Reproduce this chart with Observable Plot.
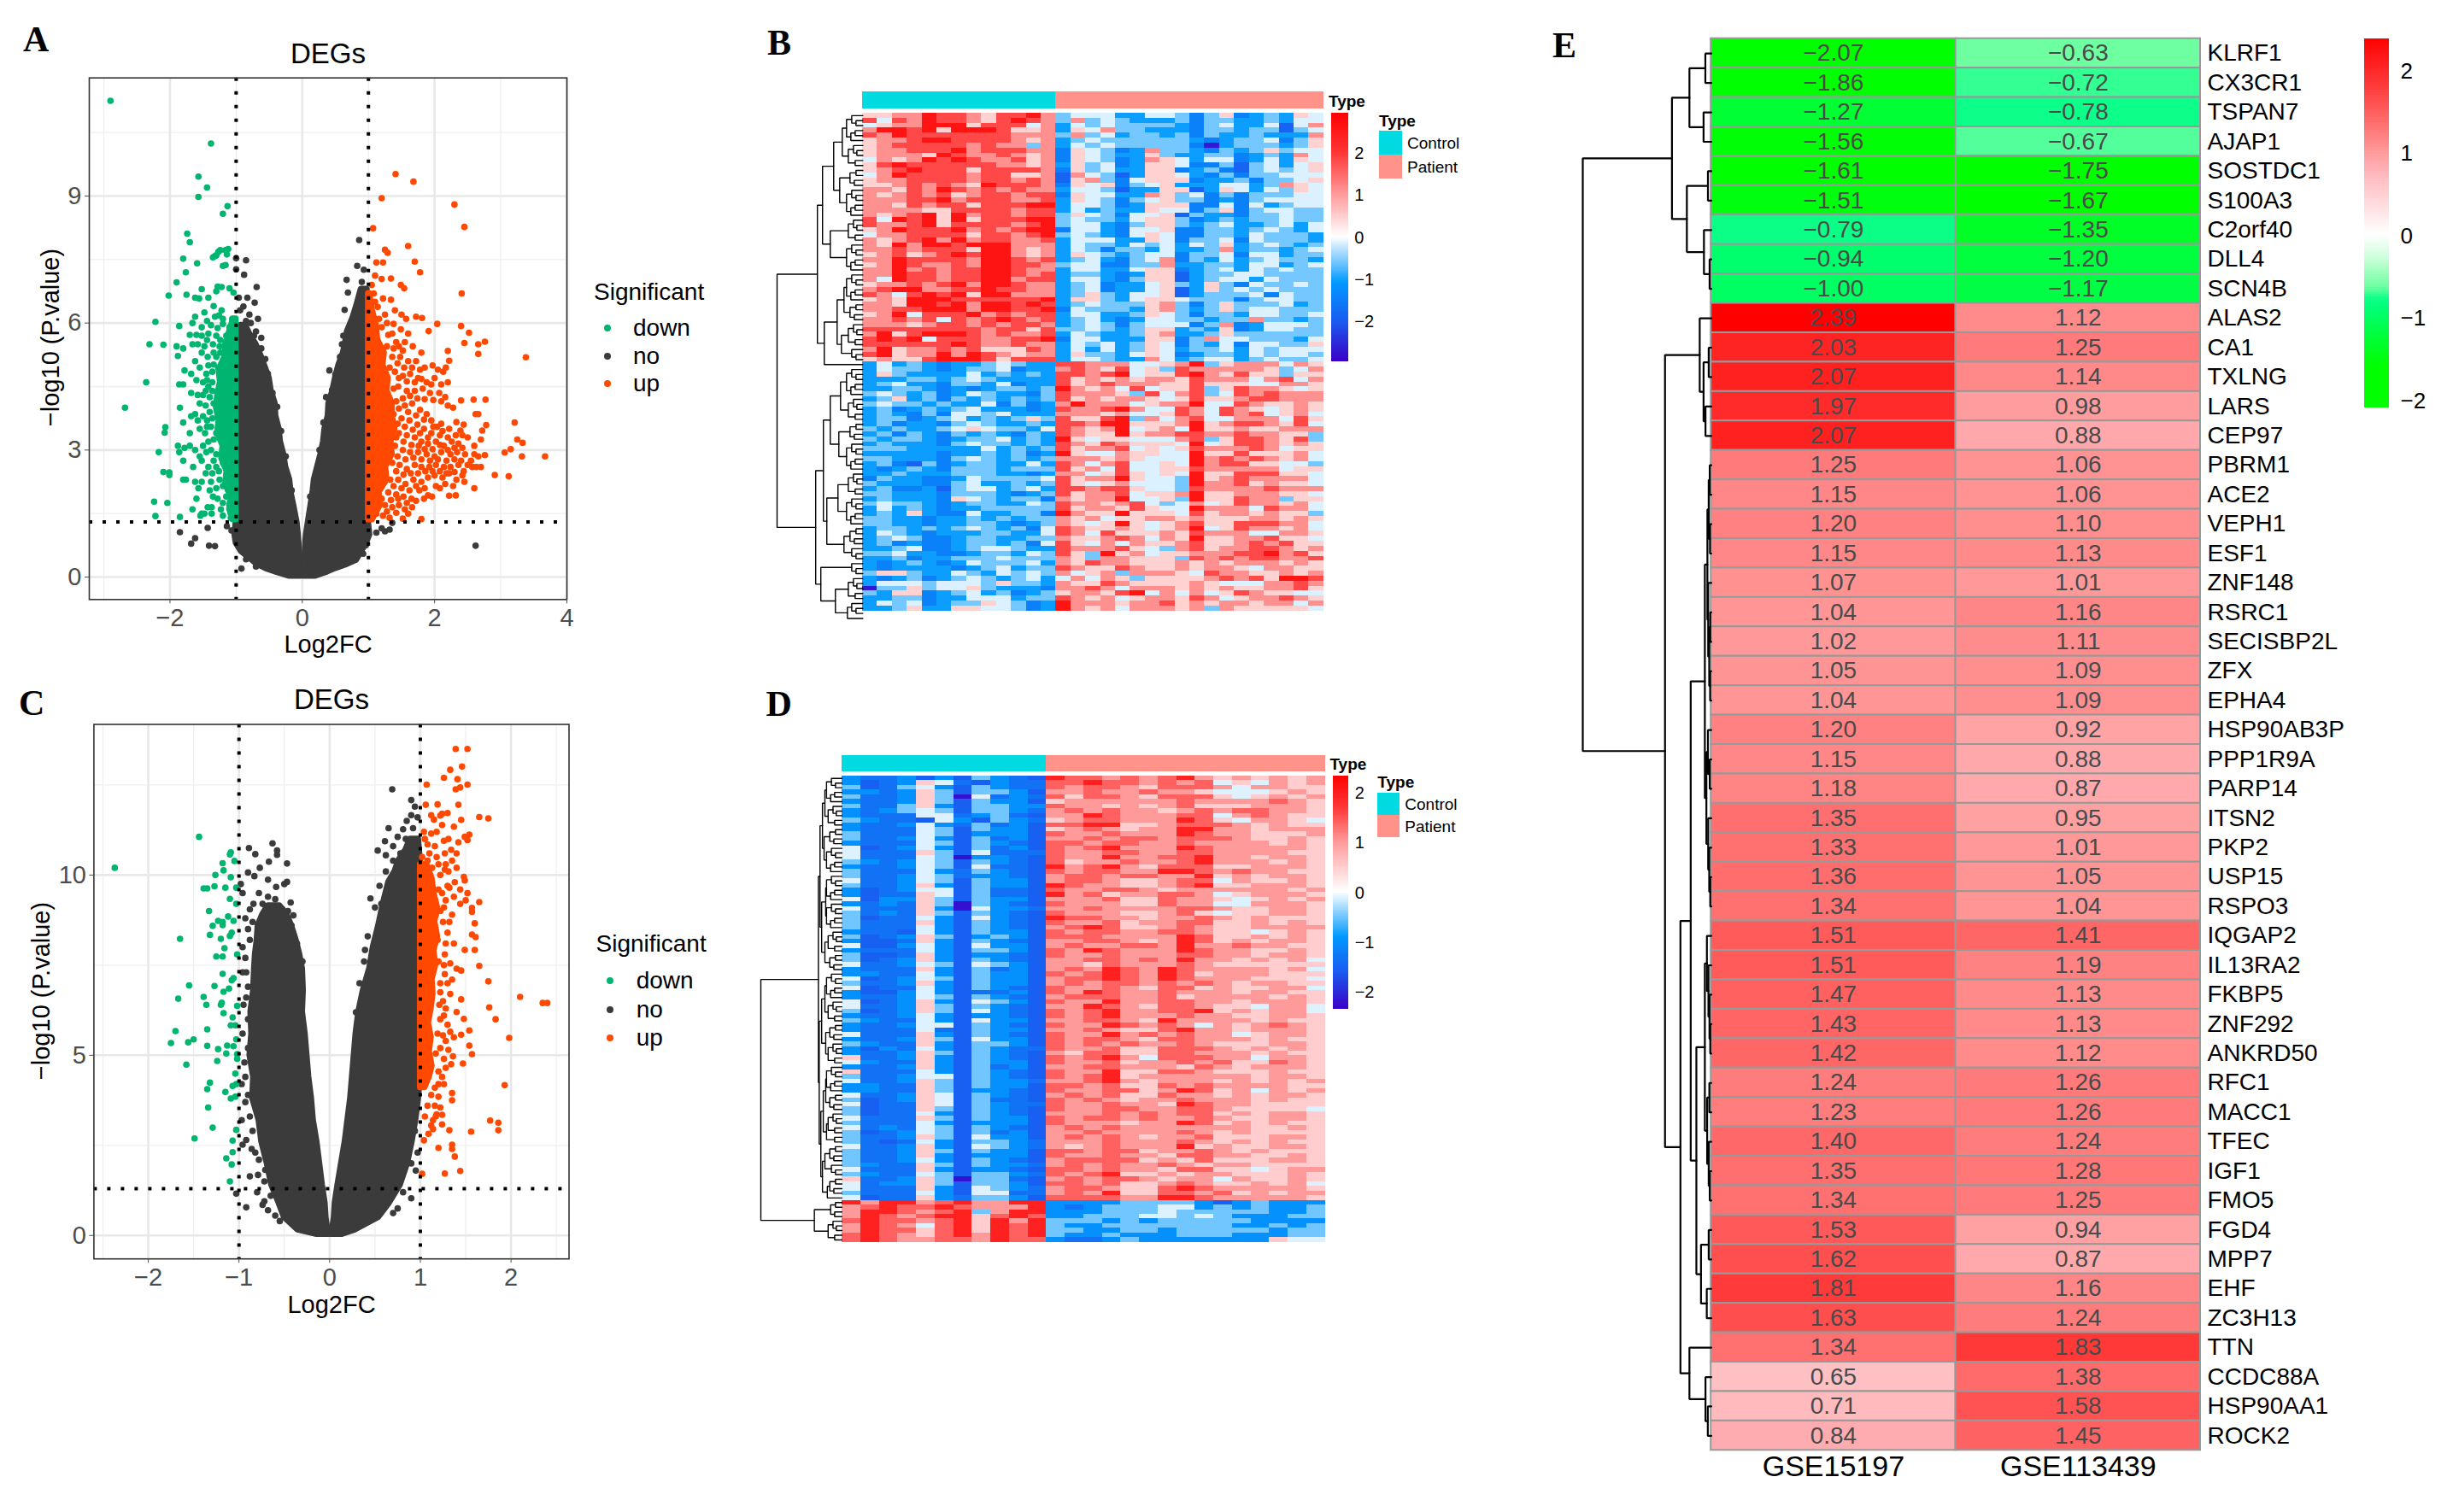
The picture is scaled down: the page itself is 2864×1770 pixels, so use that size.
<!DOCTYPE html>
<html><head><meta charset="utf-8">
<script src="https://cdn.jsdelivr.net/npm/d3@7"></script>
<script src="https://cdn.jsdelivr.net/npm/@observablehq/plot@0.6"></script>
<style>
html,body{margin:0;padding:0;background:#fff}
#page{position:relative;width:2864px;height:1770px;overflow:hidden;font-family:"Liberation Sans",Arial,sans-serif;color:#000}
.t{position:absolute;white-space:nowrap;transform:translate(-50%,-50%);line-height:1}
.l{position:absolute;white-space:nowrap;transform:translateY(-50%);line-height:1}
.d{position:absolute;border-radius:50%;transform:translate(-50%,-50%)}
.s{position:absolute}
</style></head><body><div id="page"></div>
<script>
// ---------- Panel A values (Log2FC, -log10 P)
const aDown=[[-2.9,11.25],[-1.38,10.24],[-1.57,9.46],[-1.44,9.2],[-1.57,8.98],[-1.13,8.76],[-1.2,8.58],[-1.74,8.11],[-1.7,7.91],[-1.8,7.52],[-1.59,7.41],[-1.76,7.2],[-1.9,6.96],[-2.02,6.65],[-1.75,6.67],[-2.22,6.03],[-2.31,5.5],[-2.1,5.49],[-2.36,4.6],[-2.68,4],[-2.07,3.54],[-2.08,3.41],[-2.17,2.95],[-2.1,2.48],[-2.01,2.47],[-2.01,2.41],[-2.24,1.78],[-2.04,1.75],[-2.22,1.44],[-1.85,1.42],[-1.3,7.6],[-1.27,7.68],[-1.24,7.72],[-1.35,7.55],[-1.32,7.58],[-1.16,7.72],[-1.14,7.62],[-1.12,7.75],[-1.2,7.35],[-1.16,7.37],[-1.62,6.6],[-1.56,6.58],[-1.52,6.8],[-1.42,6.6],[-1.3,6.75],[-1.28,6.86],[-1.22,6.85],[-1.1,6.82],[-1.04,6.72],[-1.34,6.4],[-1.22,6.3],[-1.48,6.25],[-1.32,6.15],[-1.26,6.18],[-1.2,6.1],[-1.06,6.1],[-1.62,6.15],[-1.66,6],[-1.86,5.93],[-1.52,5.9],[-1.2,5.98],[-1.1,5.9],[-1.7,5.72],[-1.6,5.72],[-1.52,5.7],[-1.42,5.75],[-1.3,5.7],[-1.15,5.7],[-1.9,5.45],[-1.8,5.4],[-1.66,5.5],[-1.58,5.5],[-1.48,5.45],[-1.35,5.5],[-1.25,5.45],[-1.13,5.5],[-1.88,5.22],[-1.62,5.1],[-1.52,5.3],[-1.43,5.2],[-1.3,5.2],[-1.2,5.1],[-1.78,4.88],[-1.68,4.8],[-1.55,4.95],[-1.45,4.8],[-1.36,4.85],[-1.86,4.55],[-1.8,4.55],[-1.6,4.65],[-1.5,4.6],[-1.42,4.5],[-1.68,4.35],[-1.58,4.3],[-1.4,4.25],[-1.55,4.1],[-1.85,4],[-1.62,3.85],[-1.68,3.8],[-1.58,3.7],[-1.5,3.8],[-1.4,3.9],[-1.8,3.65],[-1.7,3.4],[-1.55,3.5],[-1.47,3.4],[-1.38,3.55],[-1.3,3.4],[-1.88,3.1],[-1.86,2.95],[-1.78,3.05],[-1.7,3.1],[-1.62,3],[-1.55,2.85],[-1.45,2.95],[-1.38,3],[-1.3,2.9],[-1.8,2.75],[-1.65,2.6],[-1.52,2.75],[-1.42,2.6],[-1.3,2.6],[-1.2,2.7],[-1.8,2.3],[-1.76,2.3],[-1.62,2.25],[-1.57,2.1],[-1.52,2.25],[-1.38,2.25],[-1.25,2.3],[-1.15,2.4],[-1.6,1.85],[-1.35,1.9],[-1.28,1.85],[-1.15,1.9],[-1.66,1.6],[-1.52,1.5],[-1.43,1.65],[-1.37,1.65],[-1.23,1.6],[-1.1,1.7],[-1.54,1.45],[-1.48,1.5],[-1.37,1.5],[-1.2,1.45],[-1.08,1.4],[-1.44,6.05],[-1.38,5.95],[-1.28,5.88],[-1.24,5.6],[-1.44,5.6],[-1.34,5.3],[-1.24,5.3],[-1.42,5],[-1.34,5.02],[-1.27,4.95],[-1.44,4.65],[-1.36,4.6],[-1.46,4.4],[-1.36,4.4],[-1.5,4.3],[-1.46,4.05],[-1.34,4.1],[-1.44,3.7],[-1.36,3.75],[-1.44,3.55],[-1.34,3.25],[-1.42,3.2],[-1.5,3.1],[-1.34,2.75],[-1.26,2.5],[-1.36,2.45],[-1.46,2.45],[-1.2,2.15],[-1.3,2.1],[-1.4,2.05],[-1.2,1.75],[-1.12,2.05]];
const aDownBand=[[1.35,-1.05,-1],[1.6,-1.1,-1],[1.9,-1.08,-1],[2.2,-1.16,-1],[2.5,-1.14,-1],[2.8,-1.22,-1],[3.1,-1.2,-1],[3.4,-1.28,-1],[3.7,-1.26,-1],[4,-1.3,-1],[4.3,-1.28,-1],[4.6,-1.24,-1],[4.9,-1.26,-1],[5.2,-1.17,-1],[5.5,-1.16,-1],[5.8,-1.1,-1],[6.1,-1.04,-1]];
const aUp=[[1.41,9.52],[1.68,9.34],[1.2,8.95],[2.3,8.8],[2.45,8.27],[1.07,8.24],[1.6,7.82],[1.25,7.73],[1.29,7.66],[1.7,7.45],[1.12,7.43],[1.22,7.43],[1.78,7.2],[2.41,6.7],[1.1,7.12],[1.2,7.04],[1.34,7.05],[1.49,6.9],[1.54,6.82],[1.72,6.15],[1.81,6.12],[2.04,5.98],[2.4,5.93],[2.52,5.77],[1.91,5.81],[2.45,5.53],[2.66,5.5],[2.76,5.56],[2.66,5.27],[3.38,5.19],[2.2,5.34],[2.22,5.11],[3.21,3.65],[3.25,3.25],[3.33,3.17],[3.15,3.02],[3.06,2.94],[3.32,2.85],[3.67,2.85],[2.91,2.41],[3.12,2.38],[2.77,4.19],[2.59,4.19],[2.4,4.17],[2.28,4],[2.62,3.85],[2.66,3.85],[2.78,3.59],[2.72,3.46],[2.33,3.66],[2.39,3.46],[1.05,6.9],[1.08,6.7],[1.22,6.58],[1.34,6.55],[1.4,6.3],[1.5,6.2],[1.57,6.1],[1.14,6.38],[1.25,6.2],[1.38,5.98],[1.49,5.85],[1.6,5.75],[1.2,5.9],[1.3,5.72],[1.42,5.55],[1.55,5.55],[1.67,5.45],[1.8,5.3],[1.36,5.2],[1.48,5.2],[1.6,5.1],[1.72,5.1],[1.85,4.95],[1.97,5],[2.05,4.9],[2.13,4.85],[2.17,4.95],[1.4,4.85],[1.52,4.75],[1.63,4.8],[1.75,4.7],[1.88,4.6],[2,4.7],[2.1,4.55],[2.2,4.6],[1.45,4.5],[1.58,4.4],[1.7,4.4],[1.82,4.45],[1.93,4.35],[2.07,4.35],[2.16,4.25],[2.2,4.05],[1.42,4.15],[1.55,4.05],[1.66,4.1],[1.78,3.95],[1.88,3.85],[1.95,3.7],[2.04,3.55],[2.12,3.45],[1.38,3.85],[1.5,3.75],[1.62,3.7],[1.74,3.6],[1.84,3.5],[1.95,3.4],[2.22,3.5],[2.44,3.6],[2.42,3.35],[1.35,3.5],[1.46,3.4],[1.58,3.35],[1.7,3.3],[1.8,3.2],[1.9,3.15],[2.02,3.2],[2.14,3.1],[2.26,3.2],[2.36,3.15],[2.5,3.3],[2.6,3.1],[2.7,3.25],[1.4,3.1],[1.52,3],[1.63,2.95],[1.75,2.95],[1.88,2.9],[2,2.85],[2.1,2.95],[2.24,2.9],[2.34,2.95],[2.46,2.9],[2.55,2.75],[2.66,2.85],[2.76,2.88],[2.7,2.6],[1.36,2.7],[1.47,2.65],[1.58,2.55],[1.7,2.65],[1.8,2.6],[1.92,2.6],[2.02,2.65],[2.14,2.6],[2.24,2.6],[2.36,2.65],[2.44,2.5],[2.57,2.6],[2.63,2.6],[1.33,2.3],[1.45,2.3],[1.56,2.2],[1.68,2.3],[1.8,2.25],[1.9,2.35],[2,2.4],[2.12,2.35],[2.22,2.45],[2.33,2.3],[2.45,2.25],[2.6,2.1],[1.3,2],[1.42,1.95],[1.53,1.9],[1.65,1.85],[1.77,2.05],[1.9,1.93],[1.96,1.9],[2.08,2.1],[2.22,1.92],[2.32,1.93],[1.25,1.7],[1.36,1.65],[1.46,1.7],[1.55,1.6],[1.66,1.65],[1.22,1.45],[1.32,1.4],[1.52,1.38],[1.8,1.37],[1.12,1.5],[1.2,1.85],[1.1,6.5],[1.16,6.1],[1.28,6],[1.36,5.75],[1.28,5.45],[1.38,5.4],[1.46,5.45],[1.52,5.35],[1.44,5.05],[1.54,4.95],[1.66,4.95],[1.78,4.9],[1.32,4.95],[1.46,4.7],[1.58,4.62],[1.7,4.6],[1.8,4.68],[1.95,4.55],[1.38,4.45],[1.52,4.22],[1.63,4.28],[1.74,4.22],[1.85,4.2],[1.98,4.18],[2.1,4.15],[1.46,3.98],[1.6,3.9],[1.72,3.82],[1.84,3.72],[1.98,3.55],[2.1,3.62],[2.2,3.3],[1.44,3.62],[1.55,3.55],[1.67,3.48],[1.78,3.4],[1.9,3.3],[2.08,3.35],[2.32,3.35],[1.42,3.3],[1.53,3.2],[1.65,3.12],[1.76,3.1],[1.85,3.02],[1.97,3.02],[2.08,3.12],[2.2,3],[2.3,3.05],[2.42,3.05],[1.44,2.85],[1.56,2.78],[1.68,2.82],[1.8,2.78],[1.93,2.75],[2.05,2.78],[2.18,2.75],[2.3,2.78],[2.4,2.75],[2.5,2.65],[2.6,2.9],[1.42,2.5],[1.53,2.42],[1.64,2.45],[1.75,2.45],[1.86,2.5],[1.97,2.5],[2.08,2.5],[2.18,2.45],[2.3,2.48],[2.42,2.4],[1.38,2.15],[1.5,2.1],[1.62,2.05],[1.72,2.15],[1.85,2.1],[2.02,2.15],[2.16,2.2],[2.28,2.15],[1.34,1.82],[1.45,1.85],[1.58,1.75],[1.72,1.8],[1.84,1.85],[1.28,1.55],[1.42,1.52],[1.6,1.5]];
const aUpBand=[[1.35,1,1.06],[1.7,1,1.18],[2,1,1.16],[2.3,1,1.28],[2.6,1,1.26],[2.9,1,1.36],[3.2,1,1.34],[3.5,1,1.4],[3.8,1,1.36],[4.1,1,1.36],[4.4,1,1.28],[4.7,1,1.3],[5,1,1.22],[5.3,1,1.24],[5.6,1,1.14],[5.95,1,1.12],[6.3,1,1.06],[6.7,1,1.02]];
const aNoLeft=[[0.02,-0.2,-0.02],[0.12,-0.4,-0.02],[0.2,-0.55,-0.03],[0.3,-0.68,-0.03],[0.4,-0.76,-0.03],[0.6,-0.92,-0.04],[0.8,-1,-0.05],[1,-1.02,-0.06],[1.3,-1,-0.08],[1.7,-1,-0.13],[2,-1,-0.17],[2.3,-1,-0.19],[2.6,-1,-0.25],[2.9,-1,-0.28],[3.2,-1,-0.33],[3.5,-1,-0.35],[3.8,-1,-0.4],[4.1,-1,-0.41],[4.4,-1,-0.47],[4.7,-1,-0.5],[5,-0.98,-0.57],[5.25,-0.98,-0.63],[5.5,-0.98,-0.7],[5.7,-0.96,-0.78],[5.95,-0.93,-0.86]];
const aNoRight=[[0.02,0.02,0.2],[0.12,0.02,0.38],[0.2,0.03,0.5],[0.3,0.03,0.68],[0.4,0.04,0.82],[0.8,0.05,0.97],[1,0.06,1.02],[1.3,0.09,1],[1.7,0.13,1],[2,0.16,1],[2.3,0.18,1],[2.6,0.23,1],[2.9,0.28,1],[3.2,0.32,1],[3.5,0.34,1],[3.8,0.39,1],[4.1,0.4,1],[4.4,0.46,1],[4.7,0.5,1],[5,0.55,1],[5.3,0.62,1],[5.6,0.66,1],[5.8,0.68,0.98],[6.1,0.76,0.98],[6.4,0.82,0.98],[6.8,0.89,0.98]];
const aNo=[[-1.85,1.06],[-1.62,0.92],[-1.68,0.79],[-1.43,1.16],[-1.41,0.74],[-1.32,0.73],[-1.14,1.2],[-1.07,1.1],[2.62,0.74],[-0.92,0.2],[1.25,1.08],[1.32,1.12],[1.36,1.28],[1.2,1.15],[1.12,1.05],[0.86,7.96],[0.83,7.35],[0.93,7.26],[0.67,7.02],[0.9,6.97],[0.69,6.72],[0.64,6.31],[-1,7.53],[-0.85,7.48],[-1,7.27],[-0.88,7.14],[-0.69,6.85],[-0.83,6.6],[-0.72,6.48],[-0.89,6.39],[-0.8,6.2],[-0.67,6.1],[-0.85,6.05],[-0.7,5.8],[-0.96,6.6],[-0.94,6.3],[0.41,4.88],[0.24,2.64],[0.45,4.42],[0.48,3.9],[0.62,5.7],[0.66,5.6],[0.72,5.85],[0.76,6],[0.84,6.5],[0.8,6.2],[-0.62,5.4],[-0.56,5.15],[-0.52,4.8],[-0.45,4.35],[-0.38,4.02],[-0.32,3.45],[-0.25,2.85],[-0.16,2.05],[0.12,1.9],[0.26,3],[0.32,3.65],[0.36,4.25],[0.5,4.78],[0.57,5.2],[0.6,5.5],[-0.78,6],[-0.73,5.7],[-0.62,5.65],[-0.85,0.42],[-0.7,0.25],[0.8,0.5],[0.92,0.55],[0.96,0.75]];
// ---------- Panel C values
const cDown=[[-2.37,10.2],[-1.44,11.06],[-1.09,10.63],[-1.1,10.57],[-1.05,10.39],[-1.18,10.33],[-1.17,10.13],[-1.26,10],[-1.09,9.94],[-1.39,9.63],[-1.35,9.63],[-1.27,9.69],[-1.15,9.65],[-1.03,9.65],[-1.1,9.34],[-1.03,9.2],[-1.33,9],[-1.12,8.85],[-1.23,8.73],[-1.29,8.59],[-1.18,8.61],[-1.18,8.7],[-1.06,8.73],[-1.08,8.4],[-1.65,8.23],[-1.32,8.34],[-1.2,8.23],[-1.1,8.31],[-1.16,7.97],[-1.02,7.8],[-1.25,7.74],[-1.18,7.74],[-1.18,7.26],[-1.06,7.14],[-1.08,7.08],[-1.55,6.94],[-1.27,6.92],[-1.11,6.85],[-1.17,6.76],[-1.67,6.57],[-1.39,6.62],[-1.36,6.4],[-1.19,6.46],[-1.2,6.4],[-1.02,6.37],[-1.17,6.17],[-1.07,6.05],[-1.09,5.83],[-1.04,5.83],[-1.7,5.67],[-1.35,5.72],[-1.5,5.44],[-1.56,5.36],[-1.75,5.34],[-1.35,5.26],[-1.23,5.17],[-1.13,5.27],[-1.03,5.44],[-1.06,5.25],[-1.14,5.05],[-1.24,4.84],[-1.02,5.03],[-1.02,4.9],[-1.58,4.74],[-1.04,4.49],[-1.32,4.24],[-1.35,4.06],[-1.03,4.2],[-1.07,4.15],[-1.15,3.98],[-1.09,3.8],[-1.04,3.85],[-1.34,3.55],[-1.29,2.99],[-1.49,2.69],[-1.03,2.93],[-1.07,2.63],[-1.07,2.31],[-1.14,2.14],[-1.08,1.97],[-1.1,1.5]];
const cUp=[[1.39,13.5],[1.52,13.5],[1.33,12.92],[1.46,13.01],[1.26,12.7],[1.41,12.66],[1.07,12.51],[1.52,12.51],[1.44,12.43],[1.39,12.38],[1.06,11.95],[1.19,11.96],[1.42,11.95],[1.24,11.7],[1.3,11.72],[1.12,11.66],[1.22,11.65],[1.65,11.61],[1.75,11.57],[1.15,11.54],[1.45,11.53],[1.37,11.34],[1.24,11.39],[1.54,11.12],[1.49,11.06],[1.42,10.91],[1.52,10.97],[1.12,11.15],[1.05,11],[1.18,11.2],[1.08,10.85],[1.16,10.8],[1.26,10.95],[1.31,11],[1.1,10.6],[1.18,10.5],[1.27,10.6],[1.34,10.7],[1.4,10.6],[1.28,10.3],[1.35,10.4],[1.4,10.2],[1.13,10.2],[1.22,10],[1.31,10.1],[1.48,9.95],[1.49,9.85],[1.38,9.8],[1.32,9.65],[1.44,9.6],[1.52,9.5],[1.5,9.3],[1.44,9.2],[1.37,9.4],[1.28,9.3],[1.65,9.25],[1.57,9.09],[1.57,8.98],[1.6,8.66],[1.57,8.35],[1.61,8.28],[1.49,7.92],[1.6,7.92],[1.65,7.48],[1.75,7.05],[2.1,6.62],[2.35,6.45],[2.4,6.45],[1.76,6.33],[1.83,6],[1.98,5.48],[1.93,4.17],[1.77,3.19],[1.86,3.13],[1.86,2.92],[1.56,2.88],[1.44,1.79],[1.27,1.72],[1.02,1.71],[1.38,2.19],[1.35,2.52],[1.35,2.4],[1.2,2.43],[1.04,2.64],[1.32,2.92],[1.09,2.82],[1.12,3.05],[1.24,3.08],[1.18,3.36],[1.16,3.6],[1.35,3.95],[1.35,3.75],[1.12,3.9],[1.47,4.77],[1.57,5.03],[1.54,5.27],[1.54,5.69],[1.48,6.01],[1.45,5.57],[1.36,4.97],[1.31,5.15],[1.34,4.75],[1.26,4.9],[1.28,5.4],[1.37,5.5],[1.3,5.85],[1.26,6.1],[1.4,6.2],[1.45,6.55],[1.33,6.7],[1.25,6.5],[1.35,7.1],[1.27,7.25],[1.4,7.4],[1.45,7.35],[1.33,7.55],[1.27,7.8],[1.37,8.1],[1.3,8.4],[1.25,8.7],[1.35,8.9],[1.22,9],[1.24,4.4],[1.16,4.1],[1.2,3.85],[1.05,3.3],[1.08,3.6],[1.22,3.55],[1.14,2.95],[1.14,3.2],[1.17,5.05],[1.19,5.6],[1.21,6.4],[1.22,7],[1.2,7.6],[1.19,8.2],[1.17,8.9],[1.2,9.6],[1.24,9.5],[1.3,9.7],[1.26,9.1],[1.32,8.7],[1.28,8.1],[1.26,7.5],[1.3,7],[1.22,6.75],[1.28,6.3],[1.22,6],[1.33,5.65],[1.25,5.55],[1.22,5.2],[1.28,4.65],[1.2,4.55],[1.26,4.2],[1.2,4.2],[1.17,3.3],[1.24,3.35],[1.1,10],[1.06,9.7],[1.08,10.4],[1.2,10.3],[1.27,10.15],[1.02,10.5],[1.04,11.2]];
const cUpBand=[[4.1,1,1.05],[4.4,1,1.1],[4.7,1,1.13],[5.1,1,1.1],[5.5,1,1.12],[5.9,1,1.09],[6.3,1,1.12],[6.7,1,1.14],[7.1,1,1.13],[7.5,1,1.17],[7.9,1,1.15],[8.3,1,1.19],[8.7,1,1.16],[9.1,1,1.19],[9.5,1,1.15],[9.9,1,1.13],[10.3,1,1.07]];
const cNoLeft=[[0.03,-0.14,-0.01],[0.15,-0.35,-0.02],[0.5,-0.5,-0.04],[0.9,-0.56,-0.05],[1.4,-0.64,-0.08],[2,-0.69,-0.11],[2.6,-0.75,-0.14],[3.2,-0.78,-0.18],[3.8,-0.85,-0.2],[4.4,-0.84,-0.23],[5,-0.88,-0.25],[5.6,-0.86,-0.27],[6.2,-0.87,-0.3],[6.8,-0.84,-0.29],[7.4,-0.83,-0.3],[7.8,-0.82,-0.33],[8.2,-0.8,-0.37],[8.6,-0.79,-0.42],[8.9,-0.74,-0.47],[9.15,-0.68,-0.55]];
const cNoRight=[[0.03,0.02,0.14],[0.15,0.03,0.28],[0.5,0.05,0.54],[0.9,0.06,0.66],[1.4,0.09,0.78],[2,0.13,0.86],[2.6,0.17,0.91],[3.2,0.2,0.95],[3.8,0.23,0.98],[4.4,0.25,1],[5,0.27,1],[5.6,0.29,1],[6.2,0.32,1],[6.8,0.37,1],[7.4,0.44,1],[8,0.48,1],[8.6,0.54,1],[9.2,0.59,1],[9.8,0.65,1],[10.1,0.72,1],[10.4,0.76,1],[10.7,0.84,0.99],[11,0.89,0.98]];
const cNo=[[0.69,12.38],[0.9,12.08],[0.94,11.9],[0.9,11.66],[0.85,11.5],[0.65,11.3],[0.81,11.27],[0.61,10.94],[0.75,11.06],[0.53,10.68],[0.62,10.55],[0.7,10.8],[0.45,9.35],[0.39,7.92],[0.29,6.19],[0.57,9.2],[-0.89,10.75],[-0.82,10.58],[-0.63,10.88],[-0.58,10.68],[-0.58,10.56],[-0.67,10.37],[-0.47,10.32],[-0.9,10.07],[-0.77,10.2],[-0.83,9.97],[-0.68,9.87],[-0.59,9.67],[-0.47,9.81],[-0.5,9.75],[-0.98,9.75],[-0.96,9.5],[-0.78,9.5],[-0.68,9.4],[-0.6,9.33],[-0.43,9.24],[-0.46,9],[-0.4,8.88],[-0.88,9.05],[-0.93,8.8],[-0.9,8.5],[-0.96,8],[-0.93,7.7],[-0.96,7.3],[-0.9,6.9],[-0.95,6.4],[-0.9,6],[-0.96,5.6],[-0.94,4.8],[-0.97,4.2],[-0.93,3.7],[-0.97,3.2],[-0.96,2.52],[-0.92,2.65],[-0.86,2.4],[-0.88,1.64],[-0.79,1.68],[-0.71,1.82],[-1.03,1.16],[-0.92,0.78],[-0.72,0.95],[-0.74,0.85],[0.7,0.62],[0.75,0.75],[0.9,1.03],[0.81,1.2],[0.95,1.8],[0.97,2.3],[-0.8,1.2],[-0.68,0.7],[-0.6,0.55],[-0.55,0.4],[-0.84,9.2],[-0.74,9.2],[-0.62,9.1],[-0.52,9.05],[-0.85,8.7],[-0.42,8.6],[-0.36,8.1],[-0.3,7.6],[-0.88,8.2],[-0.92,7.3],[-0.92,6.6],[-0.9,5.2],[-0.93,4.4],[-0.9,3.9],[-0.88,3.3],[-0.85,2.9],[-0.82,2.3],[-0.78,2.1],[-0.72,1.5],[-0.65,1.1],[0.55,1.1],[0.66,1.2],[0.75,1.5],[0.82,1.8],[0.9,2],[0.94,2.9],[0.7,10.4],[0.78,10.6],[0.84,11],[0.92,11.3],[0.97,11.6],[0.62,10.1],[0.55,9.7],[0.5,9.1],[0.42,8.3],[0.38,7.6],[0.33,7]];
// ---------- Panel B, D: z-score levels per cell, one digit per sample (Control | Patient)
const heatB=[
"6677988768897 455533 554246 234365","8587988768987 474543 334244 334355","5677999688857 354544 443245 335157","7998969998667 365744 333244 344145",
"8798888888777 474534 434243 343337","6778998888767 345444 444323 445246","6788888787747 354544 444203 444346","6778889788877 265423 744324 346455",
"6777698778767 265433 643344 234375","5767989877867 265423 765355 235365","6898888887767 364523 665224 145356","6789888688887 264533 662342 145456",
"5798888788667 175413 665324 244555","6778888788787 167425 666233 424456","6678787698887 265624 563335 534765","7768798787877 355413 366136 535465",
"7678786788788 265533 764524 244455","7778897888778 365424 564423 245555","7768788688899 355423 666225 253455","7777668888788 353433 655246 245544",
"7678969788788 465425 561433 244544","8598969688899 454435 664234 344544","8778968888789 455324 664345 334535","6798889787899 255325 562244 345435",
"5778888688789 454325 652244 354443","7678979788778 355533 652445 254443","7697998999777 354435 453546 345434","7787888699767 354244 353347 344345",
"6786789899767 365434 552445 255344","7798888799878 345324 572435 345443","6798778799887 455224 473344 355345","7797878899877 355335 662345 354544",
"7798878899878 344323 661344 554444","7598878899788 355324 661345 535444","6778789799877 345233 564364 254454","7899778898877 345233 561364 545444",
"8758989699777 346435 561344 452544","6769998888889 366435 665444 245544","7769989799898 345444 674246 444534","7788999799889 254443 674346 455444",
"6795888978788 355334 654244 355445","7787858789878 345323 554434 474434","7776788787887 345424 555247 235554","8888888878868 445434 663436 235544",
"7968999878778 354334 673346 444444","8989588877889 255333 662475 544435","8888889877877 354534 652435 255446","7967787866687 353534 653445 354555",
"8967797987677 364435 652344 354554","6766899986888 355433 753455 345445"];
const heatB2=[
"3534323345433 887775 567946 777576","3544323445233 787685 648777 776457","3643333534343 887895 668976 866466","3334434543333 867676 776877 757857",
"3453324435233 867877 766866 655776","3344323234434 976758 566846 877656","4543423543324 877764 857845 878777","3463424343434 867677 656866 788777",
"4544343352423 797775 677955 876676","3423434533323 877897 558758 765676","3432425545333 777675 568758 785675","3442345343464 866894 757855 777586",
"3423324543343 887996 667967 887685","4343345654435 876795 675966 766777","3424324343243 876696 778877 877664","4344323445343 965665 557846 887684",
"3433324544343 876876 665956 887676","4443333353434 867785 656877 787566","3333323343423 965576 655966 866675","4433324543434 777676 555978 787675",
"3421423443353 875785 565978 866554","3234324443444 867585 566877 777566","3343334443323 775686 565966 888665","2433223544445 867796 554967 877775",
"4333224533434 865675 554977 867665","3422314553453 887886 554877 778777","4433324443234 867785 667966 777665","3433326543442 767795 564966 877466",
"4544323443354 877678 545756 877675","3534323344444 867768 655977 758775","3436322533442 976696 665867 767664","4433233434344 767566 776766 677676",
"4433233443234 765696 567866 888775","3443434543425 876676 567956 877675","3543233344335 875866 676877 755776","3454223443344 766787 576966 778665",
"3423223443425 865757 667866 787866","3345223455433 877786 547867 788767","4453322344354 864967 566777 889786","3342334445444 764776 664878 788778",
"3234323544453 768776 667676 777676","3233332345344 876687 667677 657766","4664335435454 756747 776587 766767","3234234543453 575764 666678 786998",
"3555455546443 766876 666765 557787","0446455643332 778757 776767 667786","4366234534234 677689 575756 876655","3344233555344 876756 776875 677876",
"3545234465423 977767 786767 767757","3346336655423 976757 776747 666665"];
const heatD=[
"32231 31432 1 988787 897676 767","31236 52132 2 889887 878565 767","41245 31432 2 878876 888757 766","33236 41443 1 778778 776555 676"];
const heatD1=[
"42236 40523 2 868876 888656 767","32236 41433 1 677777 787777 876","42246 31443 3 877676 786667 776","32345 41443 2 787877 678788 776",
"32225 52342 1 779877 788578 766","43221 53143 2 678877 798657 765","32235 32423 1 889966 788876 766","32225 41433 1 678767 799776 777",
"42225 41333 1 877877 798776 667","42235 31423 1 778788 788876 676","32225 41432 1 887887 787777 676","51235 31423 1 878977 798777 776",
"52226 41522 2 877887 788777 766","52225 40332 1 877977 889776 776","43235 41432 1 867787 789777 676","32235 41522 1 978976 888667 776",
"42225 32432 1 878877 998787 766","42235 42332 1 788788 779676 776","52235 41433 1 788766 788576 676","42236 31433 1 987766 789667 776",
"31235 51422 1 877887 677777 767","31226 51422 1 978677 887567 776","51336 41433 1 777866 877656 767","32326 40432 1 877766 877557 776",
"52226 30533 2 778777 788766 776","42326 41432 1 877766 786566 776"];
const heatD2=[
"41225 31532 1 988776 778767 666","42226 31432 1 877867 788667 676","42225 31432 1 789866 787667 777","32215 31433 1 878877 887665 676",
"41236 41343 1 888777 798667 676","31126 31432 1 778876 798676 776","51135 31533 1 787788 797787 766","32225 31443 1 879877 798776 676",
"41126 31332 1 877877 788776 776","41236 31432 1 778878 797767 675","52235 41543 1 776877 787666 666","32226 31423 1 787987 987777 675",
"33225 31433 1 878987 986777 666","51235 41433 1 788987 987776 665","42236 31433 1 787887 878767 766","51225 31432 1 877876 886766 775",
"31135 31223 1 879877 877767 766","32235 41432 1 788877 867777 676","51236 31543 1 877977 887767 776","52236 41432 1 779876 887665 775",
"41236 41532 1 878977 889676 775","32235 31332 1 878977 787766 776","43225 31533 1 778876 977776 766","32235 51432 1 877987 875767 876",
"32225 21433 1 778766 897767 776","52226 31432 1 877978 787756 776","32236 41533 1 878876 887776 766","43226 31443 1 878787 787666 776",
"31325 31432 2 877866 888767 676","32236 41432 1 768866 887776 766","62236 31432 1 878975 888775 776","53226 31433 1 877867 787866 876",
"32236 31423 1 778877 768767 776","62225 31432 1 877966 887666 766","42235 51432 1 878967 777776 776","52236 41433 2 778976 777676 767",
"33226 41433 1 887866 878777 766","33226 41332 1 877886 798675 767","52236 51432 1 787866 877676 776","41236 51422 1 878767 787776 766",
"51226 51432 2 877877 698776 666","41226 41432 1 877887 788766 665","41225 31432 1 777878 788676 776","52226 41433 1 878878 778766 776",
"42225 31333 1 877767 798676 766","52325 41432 1 787877 777776 676","41235 41423 1 778777 787676 666","42236 41533 1 787876 778666 776",
"42125 31443 2 777877 787676 766","52236 31543 2 767877 796766 776","42236 41433 1 887886 778767 666","42236 31333 1 877877 688776 676",
"42235 31432 1 788886 768666 776","43226 41433 2 787877 876776 666","52226 31332 1 887877 688665 677","43225 41443 2 878966 767766 676",
"62236 40442 1 787887 677576 676","52336 41443 1 887866 787667 675","52226 31543 2 788766 898777 776","42225 31552 2 787966 887867 677",
"51226 32443 1 888877 998777 776"];
const heatDLow=[
"97997 89779 9 333344 443134 333","78988 98777 9 323444 553434 334","79987 89479 9 333444 544444 334",
"79878 99689 8 334445 545433 344","89887 89697 9 444343 444443 333","79875 89698 9 433444 444433 434",
"79886 89698 9 443344 344444 344","89876 89798 9 433433 344433 344","89877 88798 8 322343 333333 655"];
const hColsB=["Control",13,"Patient",18], hColsD=["Control",11,"Patient",15];
const levelsB=[-2.7,-1.9,-1.45,-1.05,-0.6,-0.15,0.45,1.1,1.8,2.6];
const levelsD=[-2.2,-1.55,-1.35,-1,-0.5,-0.12,0.5,1,1.4,1.95];
// ---------- Panel E values
const genes=["KLRF1","CX3CR1","TSPAN7","AJAP1","SOSTDC1","S100A3","C2orf40","DLL4","SCN4B","ALAS2","CA1","TXLNG","LARS","CEP97","PBRM1","ACE2","VEPH1","ESF1","ZNF148","RSRC1","SECISBP2L","ZFX","EPHA4","HSP90AB3P","PPP1R9A","PARP14","ITSN2","PKP2","USP15","RSPO3","IQGAP2","IL13RA2","FKBP5","ZNF292","ANKRD50","RFC1","MACC1","TFEC","IGF1","FMO5","FGD4","MPP7","EHF","ZC3H13","TTN","CCDC88A","HSP90AA1","ROCK2"];
const gse15197=[-2.07,-1.86,-1.27,-1.56,-1.61,-1.51,-0.79,-0.94,-1.00,2.39,2.03,2.07,1.97,2.07,1.25,1.15,1.20,1.15,1.07,1.04,1.02,1.05,1.04,1.20,1.15,1.18,1.35,1.33,1.36,1.34,1.51,1.51,1.47,1.43,1.42,1.24,1.23,1.40,1.35,1.34,1.53,1.62,1.81,1.63,1.34,0.65,0.71,0.84];
const gse113439=[-0.63,-0.72,-0.78,-0.67,-1.75,-1.67,-1.35,-1.20,-1.17,1.12,1.25,1.14,0.98,0.88,1.06,1.06,1.10,1.13,1.01,1.16,1.11,1.09,1.09,0.92,0.88,0.87,0.95,1.01,1.05,1.04,1.41,1.19,1.13,1.13,1.12,1.26,1.26,1.24,1.28,1.25,0.94,0.87,1.16,1.24,1.83,1.38,1.58,1.45];
// ---------- dendrograms: [height, left, right], 0 = leaf
const P=[9,0,0],T=[13,0,[8,0,0]],Q=[15,[8,0,0],[10,0,0]],V=[17,[11,0,[7,0,0]],[9,0,0]],S=[19,[13,0,[8,0,0]],[14,[9,0,0],0]];
const treeB=[100,[53,[47,[34,[24,S,V],[27,Q,S]],[38,V,S]],[45,[30,[22,S,Q],[25,V,T]],0]],[55,[46,[38,[26,S,V],[28,Q,S]],[42,[29,V,S],[22,Q,T]]],[49,T,[32,V,[18,T,0]]]]];
const treeD=[100,[29,[27,[24,[21,S,V],[22,Q,S]],[25,[20,S,S],[21,V,Q]]],[28,[25,[21,S,V],[20,Q,V]],[26,[23,[20,S,Q],[19,V,P]],[24,[21,Q,T],[18,Q,0]]]]],[34,[14,[8,0,0],[9,0,0]],V]];
const A9=[3,[2,[1.2,0,0],[1,0,0]],[2.4,0,[1.6,[.8,0,0],[.9,0,0]]]],A3=[2.6,0,[1.2,0,0]],A4=[2.4,0,[1.6,0,[.8,0,0]]];
const treeE=[100,[30.6,[17,[4.6,0,0],[6,0,0]],[19,[2.6,0,0],[5.7,0,[1.3,0,0]]]],[36,[9,0,[6,[2,0,0],[4.5,0,0]]],[24,[16,[5,A9,[3.8,A3,A4]],[11.6,[5,[3.4,0,[2.2,0,[1.4,0,[.8,0,0]]]],[3.2,[1.5,0,0],[2,0,[1.2,0,0]]]],[8,[2,0,0],[3.5,0,0]]]],[17,0,[4.5,0,[2.7,0,0]]]]]];

const page=document.getElementById("page"), FONT='"Liberation Sans",Arial,sans-serif';
function mount(opts,left,top){const el=Plot.plot({...opts,style:{fontFamily:FONT,background:"transparent",position:"absolute",left:left+"px",top:top+"px",overflow:"visible"}});page.appendChild(el);return el;}
function html(cls,s,x,y,css={}){const e=document.createElement("div");e.className=cls;e.textContent=s;e.style.left=x+"px";e.style.top=y+"px";Object.assign(e.style,css);page.appendChild(e);return e;}
const minus=d=>d<0?"\u2212"+(-d):String(d);
const GREEN="#00b56f",BLACK="#3b3b3b",ORANGE="#ff4800";

function volcano(c){
  const W=880,H=c.H,band=(rows,color)=>Plot.areaX(rows,{y:d=>d[0],x1:d=>d[1],x2:d=>d[2],fill:color,stroke:color,strokeWidth:7,strokeLinejoin:"round"});
  const dots=(rows,color)=>Plot.dot(rows,{x:d=>d[0],y:d=>d[1],r:3.8,fill:color});
  mount({width:W,height:H,marginLeft:c.l,marginRight:W-c.r,marginTop:c.t,marginBottom:H-c.b,
    x:{domain:c.xd},y:{domain:c.yd},
    marks:[
      Plot.ruleX(c.xMinor,{stroke:"#efefef",strokeWidth:1.3}),Plot.ruleY(c.yMinor,{stroke:"#efefef",strokeWidth:1.3}),
      Plot.ruleX(c.xTicks,{stroke:"#e8e8e8",strokeWidth:2.6}),Plot.ruleY(c.yTicks,{stroke:"#e8e8e8",strokeWidth:2.6}),
      band(c.noL,BLACK),band(c.noR,BLACK),dots(c.no,BLACK),
      ...(c.downBand?[band(c.downBand,GREEN)]:[]),band(c.upBand,ORANGE),dots(c.down,GREEN),dots(c.up,ORANGE),
      Plot.ruleX([-1,1],{stroke:"#000",strokeWidth:4,strokeDasharray:"4 12"}),
      Plot.ruleY([1.3],{stroke:"#000",strokeWidth:4,strokeDasharray:"4 12"}),
      Plot.frame({stroke:"#333",strokeWidth:1.6}),
      Plot.axisX({ticks:c.xTicks,tickFormat:minus,label:null,fontSize:29,tickSize:5,tickPadding:6,color:"#4d4d4d"}),
      Plot.axisY({ticks:c.yTicks,tickFormat:minus,label:null,fontSize:29,tickSize:5,tickPadding:4,color:"#4d4d4d"})
    ]},0,c.top);
  html("t","DEGs",c.titleX,c.titleY,{fontSize:"33px"});
  html("t","Log2FC",c.titleX,c.xlabY,{fontSize:"29px"});
  html("t","\u2212log10 (P.value)",c.ylabX,c.ylabY,{fontSize:"29px",transform:"translate(-50%,-50%) rotate(-90deg)"});
  html("l","Significant",c.lgT[0],c.lgT[1],{fontSize:"28px"});
  [["down",GREEN],["no",BLACK],["up",ORANGE]].forEach(([s,col],i)=>{
    html("d","",c.lgDot,c.lgY[i],{width:"8px",height:"8px",background:col});
    html("l",s,c.lgLab,c.lgY[i],{fontSize:"28px"});
  });
}
volcano({H:790,top:0,l:104,r:663,t:90.7,b:701.3,xd:[-3.22,4],yd:[-0.53,11.79],xTicks:[-2,0,2,4],yTicks:[0,3,6,9],xMinor:[-3,-1,1,3],yMinor:[1.5,4.5,7.5,10.5],
  noL:aNoLeft,noR:aNoRight,no:aNo,down:aDown,downBand:aDownBand,up:aUp,upBand:aUpBand,
  titleX:384,titleY:61.5,xlabY:754,ylabX:59,ylabY:395,lgT:[695,341.6],lgDot:711,lgLab:741,lgY:[384,417,449]});
volcano({H:790,top:780,l:109.4,r:665.5,t:67.5,b:693.2,xd:[-2.6,2.64],yd:[-0.65,14.18],xTicks:[-2,-1,0,1,2],yTicks:[0,5,10],xMinor:[-2.5,-1.5,-0.5,0.5,1.5,2.5],yMinor:[2.5,7.5,12.5],
  noL:cNoLeft,noR:cNoRight,no:cNo,down:cDown,up:cUp,upBand:cUpBand,
  titleX:388,titleY:818,xlabY:1527,ylabX:48,ylabY:1160,lgT:[697.5,1105],lgDot:714,lgLab:744.7,lgY:[1148,1182,1215]});

function heat(c){
  const rows=c.rows.map(r=>r.replace(/ /g,""));
  const nC=c.nCtl+c.nPat, cols=d3.range(nC), rIdx=d3.range(rows.length);
  const cells=[];rows.forEach((s,r)=>{for(let i=0;i<nC;i++)if(s[i]!==undefined)cells.push({r,c:i,v:c.levels[+s[i]]});});
  const color={type:"linear",domain:c.cd,range:c.cr,interpolate:"rgb"};
  const W=Math.round(c.x2-c.x1)+2,H=Math.round(c.y2-c.y1)+2;
  mount({width:W,height:H,marginLeft:0,marginRight:W-(c.x2-c.x1),marginTop:0,marginBottom:H-(c.y2-c.y1),
    x:{type:"band",domain:cols,padding:0,round:false,axis:null},y:{type:"band",domain:rIdx,padding:0,round:false,axis:null},color,
    marks:[Plot.cell(cells,{x:"c",y:"r",fill:"v",shapeRendering:"crispEdges"})]},c.x1,c.y1);
  const ann=cols.map(i=>({c:i,t:i<c.nCtl?"Control":"Patient"}));
  mount({width:W,height:Math.round(c.by2-c.by1),marginLeft:0,marginRight:W-(c.x2-c.x1),marginTop:0,marginBottom:0,
    x:{type:"band",domain:cols,padding:0,round:false,axis:null},y:{axis:null},
    color:{domain:["Control","Patient"],range:["#00dae0","#ff9289"]},
    marks:[Plot.cell(ann,{x:"c",fill:"t",shapeRendering:"crispEdges"})]},c.x1,c.by1);
  dendro(c.tree,rows.length,c.rootX,c.x1,c.y1,c.y2,1.4);
  html("l","Type",c.typeX,c.typeY,{fontSize:"19px",fontWeight:"bold"});
  colorbar(c.cd,c.cr,c.barX,c.barW,c.y1,c.barY2,c.ticks,20,7);
  html("l","Type",c.lx,c.ltY,{fontSize:"19px",fontWeight:"bold"});
  [["Control","#00dae0"],["Patient","#ff9289"]].forEach(([s,col],i)=>{
    html("s","",c.lx,c.sw[i],{width:c.swW+"px",height:(c.sw[i+1]-c.sw[i])+"px",background:col});
    html("l",s,c.lx+c.swW+6,(c.sw[i]+c.sw[i+1])/2,{fontSize:"19px"});
  });
}
function dendro(tree,n,x0,x1,y1,y2,sw){
  const segs=[];let leaf=0,id=0;
  (function walk(nd){ if(nd===0)return{p:leaf++ +.5,h:0};
    const a=walk(nd[1]),b=walk(nd[2]),k=id++;
    segs.push({k,h:a.h,p:a.p},{k,h:nd[0],p:a.p},{k,h:nd[0],p:b.p},{k,h:b.h,p:b.p});
    return{p:(a.p+b.p)/2,h:nd[0]};})(tree);
  const w=Math.round(x1-x0)+4,h=Math.round(y2-y1);
  mount({width:w,height:h+4,marginLeft:2,marginRight:w-2-(x1-x0),marginTop:0,marginBottom:h+4-(y2-y1),
    x:{domain:[100,0],axis:null},y:{domain:[n,0],axis:null},
    marks:[Plot.line(segs,{x:"h",y:"p",z:"k",stroke:"#000",strokeWidth:sw,strokeLinejoin:"miter"})]},x0-2,y1);
}
function colorbar(cd,cr,x,w,y1,y2,ticks,fs,pad){
  const lo=cd[0],hi=cd[cd.length-1],st=(hi-lo)/150,ramp=d3.range(lo,hi,st);
  const W=w+70,H=Math.round(y2-y1)+1;
  mount({width:W,height:H,marginLeft:0,marginRight:W-w,marginTop:0,marginBottom:H-(y2-y1),
    x:{domain:[0,1],axis:null},y:{domain:[lo,hi]},color:{type:"linear",domain:cd,range:cr,interpolate:"rgb"},
    marks:[Plot.rect(ramp,{x1:0,x2:1,y1:d=>d,y2:d=>d+st*1.05,fill:d=>d,shapeRendering:"crispEdges"}),
      Plot.axisY({anchor:"right",ticks,tickFormat:minus,tickSize:0,tickPadding:pad,fontSize:fs,label:null,color:"#000"})]},x,y1);
}
const cr=["#3a00c8","#1a5cf0","#0099ff","#ffffff","#ff9a9a","#ff3535","#ff0000"];
heat({rows:heatB.concat(heatB2),nCtl:hColsB[1],nPat:hColsB[3],levels:levelsB,cd:[-2.95,-2,-1.1,0,1,2,2.95],cr,tree:treeB,
  x1:1008.9,x2:1548.7,y1:131.8,y2:714.5,by1:107,by2:127,rootX:908.5,typeX:1555,typeY:118,barX:1558,barW:19.8,barY2:423.2,ticks:[-2,-1,0,1,2],lx:1614,ltY:140.6,swW:27,sw:[153.2,181.3,208.9]});
heat({rows:heatD.concat(heatD1,heatD2,heatDLow),nCtl:hColsD[1],nPat:hColsD[3],levels:levelsD,cd:[-2.34,-1.6,-0.9,0,1,1.7,2.34],cr,tree:treeD,
  x1:984.8,x2:1550.3,y1:908,y2:1453.7,by1:884.2,by2:903,rootX:889.9,typeX:1556.4,typeY:894.3,barX:1559.6,barW:18.2,barY2:1181.3,ticks:[-2,-1,0,1,2],lx:1612.3,ltY:915.4,swW:26,sw:[928.2,953.7,979.7]});
const SERIF={fontFamily:'"Liberation Serif",serif',fontWeight:"bold",fontSize:"42px"};
html("l","A",27,46,SERIF);html("l","B",898,50,SERIF);html("l","C",22,823,SERIF);html("l","D",896.5,823.5,SERIF);html("l","E",1817,52.6,SERIF);

// Panel E
const eCd=[-2.08,-1.6,-1.27,-0.9,-0.78,-0.63,-0.3,0,0.65,0.84,1,1.25,1.5,1.81,2.07,2.39];
const eCr=["#00ff00","#00ff00","#00ff33","#00ff73","#0cff88","#6dffa0","#c8ffd8","#ffffff","#ffc0c4","#ffacb0","#ff9a9a","#ff7b7b","#ff5c5c","#ff3a3a","#ff2020","#ff0000"];
const eRows=genes.flatMap((g,i)=>[{g,s:"GSE15197",v:gse15197[i]},{g,s:"GSE113439",v:gse113439[i]}]);
{const l=2000,t=0,W=864,H=1770;
 mount({width:W,height:H,marginLeft:2.2,marginRight:W-575,marginTop:44.7,marginBottom:H-1697.3,
  x:{type:"band",domain:["GSE15197","GSE113439"],padding:0,round:false},y:{type:"band",domain:genes,padding:0,round:false},
  color:{type:"linear",domain:eCd,range:eCr,interpolate:"rgb"},
  marks:[Plot.cell(eRows,{x:"s",y:"g",fill:"v",stroke:"#999",strokeWidth:2}),
    Plot.text(eRows,{x:"s",y:"g",text:d=>(d.v<0?"\u2212":"")+Math.abs(d.v).toFixed(2),fill:"#4a4a4a",fontSize:28}),
    Plot.axisY({anchor:"right",tickSize:0,tickPadding:8,fontSize:28,label:null,color:"#000"}),
    Plot.axisX({anchor:"bottom",tickSize:0,tickPadding:6,fontSize:34,label:null,color:"#000"})]},l,t);}
dendro(treeE,48,1851.6,2002,44.7,1697.3,2.2);
colorbar(eCd,eCr,2767,29,44.7,476.5,[-2,-1,0,1,2],26,13);
</script></body></html>
